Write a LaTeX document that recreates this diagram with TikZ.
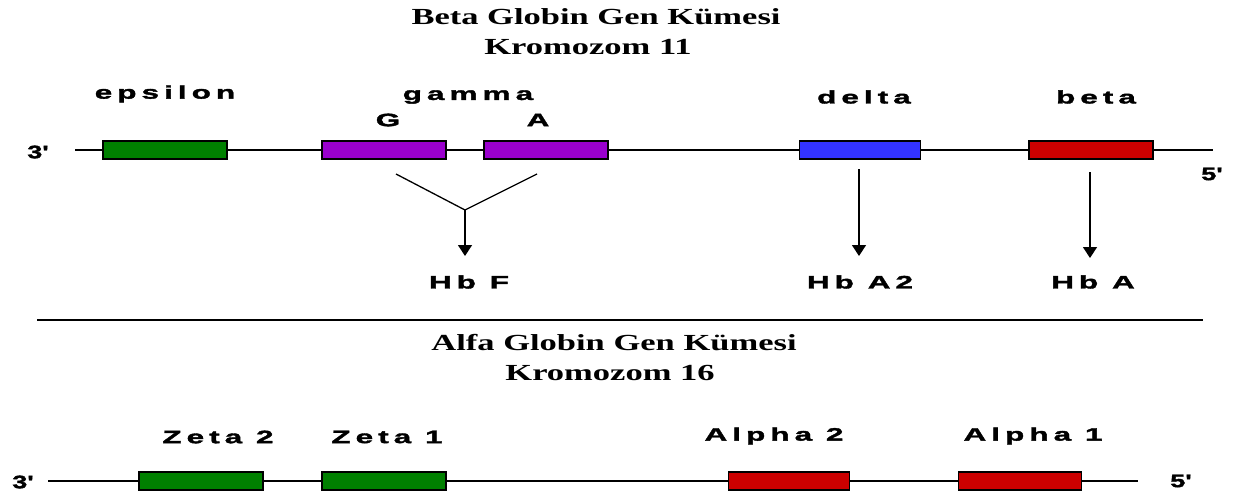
\documentclass[tikz,border=0pt]{standalone}
\usepackage{fontspec}
\usetikzlibrary{arrows.meta}
\newfontfamily\lblfont{Liberation Sans}[FakeStretch=1.75,LetterSpace=28,FakeBold=2]
\newfontfamily\primefont{Liberation Sans}[FakeStretch=1.5,FakeBold=2]
\newfontfamily\ttlfont{Liberation Serif}[FakeStretch=1.5]
\definecolor{gGreen}{RGB}{0,128,0}
\definecolor{gPurple}{RGB}{153,0,204}
\definecolor{gBlue}{RGB}{51,51,255}
\definecolor{gRed}{RGB}{204,0,0}
\tikzset{
  gene/.style={draw=black,line width=1.8pt,minimum height=18pt,inner sep=0pt},
  lbl/.style={font=\lblfont\bfseries\fontsize{18}{20}\selectfont,inner sep=0pt},
  prime/.style={font=\primefont\bfseries\fontsize{18}{20}\selectfont,inner sep=0pt},
  ttl/.style={font=\ttlfont\bfseries\fontsize{23}{26}\selectfont,inner sep=0pt},
  chrom/.style={line width=1.4pt},
  arr/.style={line width=1.3pt,-{Triangle[width=14pt,length=11pt]}}
}
\begin{document}
\begin{tikzpicture}[x=1pt,y=-1pt]
\useasboundingbox (0,0) rectangle (1240,499);
% ---- Beta cluster ----
\node[ttl] (t1) at (596,17) {Beta Globin Gen Kümesi};
\node[ttl] (t2) at (588,47) {Kromozom 11};
\coordinate (L1) at (75,150);
\coordinate (R1) at (1213,150);
\draw[chrom] (L1) -- (R1);
\node[prime] (p3a) at (38,152) {3'};
\node[prime] (p5a) at (1212,174) {5'};
\node[gene,fill=gGreen,minimum width=124pt] (eps) at (165,150) {};
\node[gene,fill=gPurple,minimum width=124pt] (gG) at (384,150) {};
\node[gene,fill=gPurple,minimum width=124pt] (gA) at (546,150) {};
\node[gene,fill=gBlue,minimum width=121pt] (del) at (860,150) {};
\node[gene,fill=gRed,minimum width=124pt] (bet) at (1091,150) {};
\node[lbl] (leps) at (165,94) {epsilon};
\node[lbl] (lgam) at (468,97) {gamma};
\node[lbl] (lG) at (388,120) {G};
\node[lbl] (lA) at (538,120) {A};
\node[lbl] (ldel) at (864,97) {delta};
\node[lbl] (lbet) at (1096,97) {beta};
% arrows
\coordinate (yl) at (396,174);
\coordinate (yr) at (537,174);
\coordinate (yj) at (465,210);
\node[lbl] (hbf) at (469,282) {Hb F};
\node[lbl] (hba2) at (860,282) {Hb A2};
\node[lbl] (hba) at (1093,282) {Hb A};
\draw[line width=1.3pt] (yl) -- (yj) -- (yr);
\draw[arr] (yj) -- (465,256);
\coordinate (da) at (859,169);
\coordinate (ba) at (1090,172);
\draw[arr] (da) -- (859,256);
\draw[arr] (ba) -- (1090,258);
% separator
\coordinate (s1) at (37,320);
\coordinate (s2) at (1203,320);
\draw[line width=2.4pt] (s1) -- (s2);
% ---- Alpha cluster ----
\node[ttl] (t3) at (614,343) {Alfa Globin Gen Kümesi};
\node[ttl] (t4) at (610,373) {Kromozom 16};
\coordinate (L2) at (48,481);
\coordinate (R2) at (1138,481);
\draw[chrom] (L2) -- (R2);
\node[prime] (p3b) at (23,482) {3'};
\node[prime] (p5b) at (1181,481) {5'};
\node[gene,fill=gGreen,minimum width=124pt] (z2) at (201,481) {};
\node[gene,fill=gGreen,minimum width=124pt] (z1) at (384,481) {};
\node[gene,fill=gRed,minimum width=121pt] (a2) at (789,481) {};
\node[gene,fill=gRed,minimum width=123pt] (a1) at (1020,481) {};
\node[lbl] (lz2) at (218,437) {Zeta 2};
\node[lbl] (lz1) at (387,437) {Zeta 1};
\node[lbl] (la2) at (774,436) {Alpha 2};
\node[lbl] (la1) at (1033,436) {Alpha 1};
\end{tikzpicture}
\end{document}
